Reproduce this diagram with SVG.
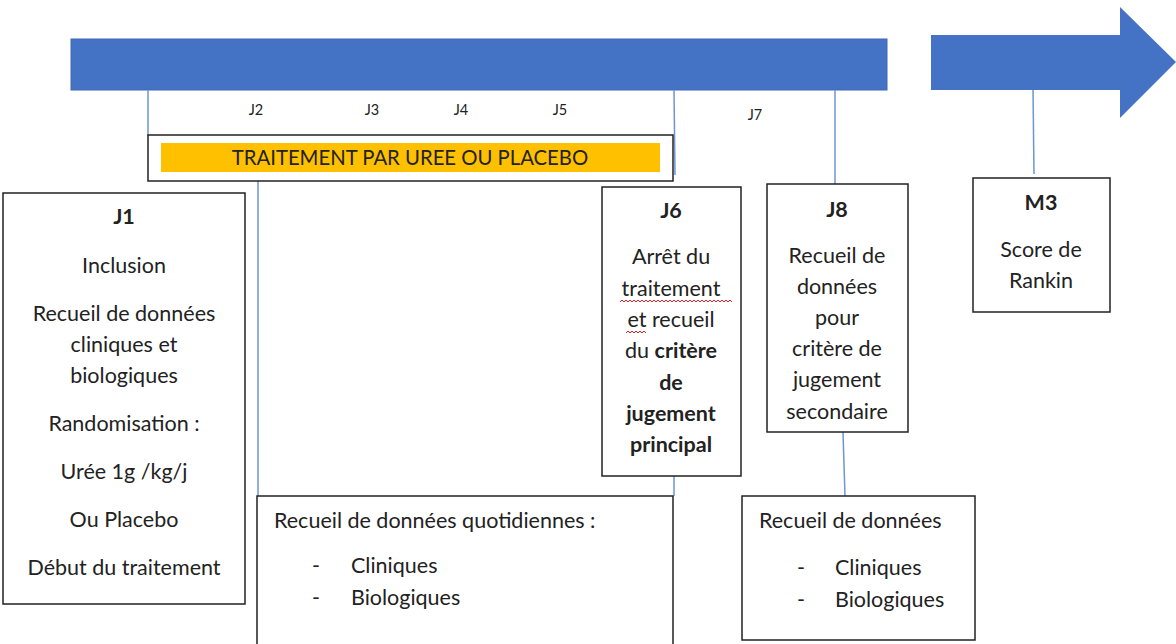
<svg xmlns="http://www.w3.org/2000/svg" width="1176" height="644" viewBox="0 0 1176 644">
<style>
.t{font-family:Lato,"Open Sans","Liberation Sans",sans-serif;font-size:21.5px;fill:#222}
.c{text-anchor:middle}
.b{font-weight:bold}
.s{font-size:14.5px}
.tr{font-size:20.3px}
.box{fill:#fff;stroke:#222;stroke-width:1.5}
.ln{stroke:#6f94d6;stroke-width:1.5;fill:none}
</style>
<rect width="1176" height="644" fill="#fff"/>
<g id="timeline">
<rect x="71" y="39" width="816" height="51" fill="#4472C4" stroke="#3f68b4" stroke-width="1"/>
<polygon points="931,35 1120,35 1120,7 1176,62 1120,118 1120,90 931,90" fill="#4472C4"/>
</g>
<g id="day-labels">
<text class="t s c" x="256" y="115">J2</text>
<text class="t s c" x="372" y="115">J3</text>
<text class="t s c" x="461" y="115">J4</text>
<text class="t s c" x="560" y="115">J5</text>
<text class="t s c" x="755" y="120">J7</text>
</g>
<g id="connectors">
<line class="ln" x1="148" y1="90" x2="148" y2="136"/>
<line class="ln" x1="674" y1="90" x2="675" y2="175"/>
<line class="ln" x1="835" y1="90" x2="835" y2="184"/>
<line class="ln" x1="1033" y1="90" x2="1034" y2="174"/>
<line class="ln" x1="258" y1="176" x2="258" y2="496"/>
<line class="ln" x1="674" y1="476" x2="674" y2="496"/>
<line class="ln" x1="843" y1="432" x2="845" y2="497"/>
</g>
<g id="treatment">
<rect class="box" x="148" y="135" width="525" height="46"/>
<rect x="161" y="143" width="499" height="29" fill="#FFC000"/>
<text class="t c tr" x="410" y="165">TRAITEMENT PAR UREE OU PLACEBO</text>
</g>
<g id="j1">
<rect class="box" x="3" y="193" width="242" height="411"/>
<text class="t c b" x="124" y="224">J1</text>
<text class="t c" x="124" y="273">Inclusion</text>
<text class="t c" x="124" y="321">Recueil de données</text>
<text class="t c" x="124" y="352">cliniques et</text>
<text class="t c" x="124" y="383">biologiques</text>
<text class="t c" x="124" y="431">Randomisation :</text>
<text class="t c" x="124" y="479">Urée 1g /kg/j</text>
<text class="t c" x="124" y="527">Ou Placebo</text>
<text class="t c" x="124" y="575">Début du traitement</text>
</g>
<g id="j6">
<rect class="box" x="602" y="187" width="139" height="289"/>
<text class="t c b" x="671" y="218">J6</text>
<text class="t c" x="671" y="264">Arrêt du</text>
<text class="t c" x="671" y="296">traitement</text>
<text class="t c" x="671" y="327">et recueil</text>
<text class="t c" x="671" y="358">du <tspan class="b">critère</tspan></text>
<text class="t c b" x="671" y="390">de</text>
<text class="t c b" x="671" y="421">jugement</text>
<text class="t c b" x="671" y="452">principal</text>
<path d="M620,302 l2,-2 l2,2 l2,-2 l2,2 l2,-2 l2,2 l2,-2 l2,2 l2,-2 l2,2 l2,-2 l2,2 l2,-2 l2,2 l2,-2 l2,2 l2,-2 l2,2 l2,-2 l2,2 l2,-2 l2,2 l2,-2 l2,2 l2,-2 l2,2 l2,-2 l2,2 l2,-2 l2,2 l2,-2 l2,2 l2,-2 l2,2 l2,-2 l2,2 l2,-2 l2,2 l2,-2 l2,2 l2,-2 l2,2 l2,-2 l2,2 l2,-2 l2,2 l2,-2 l2,2 l2,-2 l2,2 l2,-2 l2,2 l2,-2 l2,2 l2,-2 l2,2" fill="none" stroke="#e02020" stroke-width="1"/>
<path d="M626,333 l2,-2 l2,2 l2,-2 l2,2 l2,-2 l2,2 l2,-2 l2,2 l2,-2 l2,2" fill="none" stroke="#e02020" stroke-width="1"/>
</g>
<g id="j8">
<rect class="box" x="767" y="184" width="141" height="248"/>
<text class="t c b" x="837" y="217">J8</text>
<text class="t c" x="837" y="263">Recueil de</text>
<text class="t c" x="837" y="294">données</text>
<text class="t c" x="837" y="325">pour</text>
<text class="t c" x="837" y="356">critère de</text>
<text class="t c" x="837" y="387">jugement</text>
<text class="t c" x="837" y="419">secondaire</text>
</g>
<g id="m3">
<rect class="box" x="973" y="178" width="137" height="134"/>
<text class="t c b" x="1041" y="210">M3</text>
<text class="t c" x="1041" y="257">Score de</text>
<text class="t c" x="1041" y="288">Rankin</text>
</g>
<g id="daily">
<rect class="box" x="257" y="496" width="416" height="160"/>
<text class="t" x="274" y="528">Recueil de données quotidiennes :</text>
<text class="t" x="312" y="573">-</text>
<text class="t" x="351" y="573">Cliniques</text>
<text class="t" x="312" y="605">-</text>
<text class="t" x="351" y="605">Biologiques</text>
</g>
<g id="j8-data">
<rect class="box" x="742" y="496" width="233" height="144"/>
<text class="t" x="759" y="528">Recueil de données</text>
<text class="t" x="797" y="575">-</text>
<text class="t" x="835" y="575">Cliniques</text>
<text class="t" x="797" y="607">-</text>
<text class="t" x="835" y="607">Biologiques</text>
</g>
</svg>
